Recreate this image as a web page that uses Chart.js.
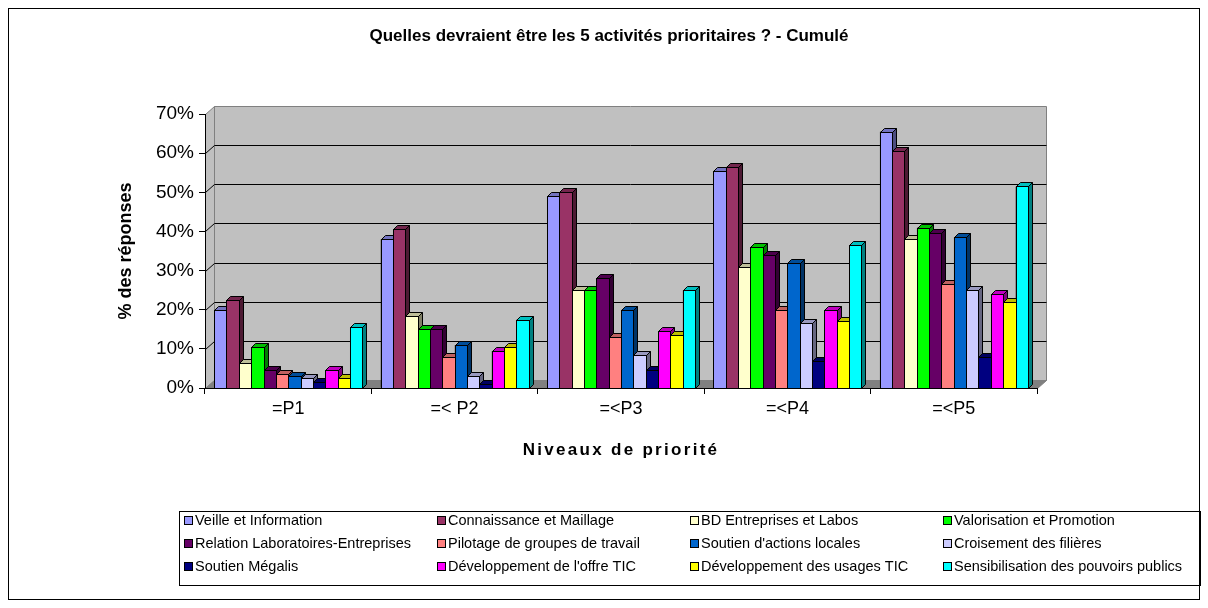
<!DOCTYPE html>
<html><head><meta charset="utf-8">
<script src="https://cdn.jsdelivr.net/npm/chart.js@4.4.1/dist/chart.umd.min.js"></script>
<style>html,body{margin:0;padding:0;background:#fff}#wrap{width:1208px;height:608px;position:relative}</style>
</head><body><div id="wrap"><canvas id="c" width="1208" height="608"></canvas></div>
<script>
const chartTitle = "Quelles devraient être les 5 activités prioritaires ? - Cumulé";
const xTitle = "Niveaux de priorité";
const yTitle = "% des réponses";
const categories = ["=P1", "=< P2", "=<P3", "=<P4", "=<P5"];
const yTickLabels = ["0%", "10%", "20%", "30%", "40%", "50%", "60%", "70%"];
const seriesNames = ["Veille et Information", "Connaissance et Maillage", "BD Entreprises et Labos", "Valorisation et Promotion",
  "Relation Laboratoires-Entreprises", "Pilotage de groupes de travail", "Soutien d'actions locales", "Croisement des filières",
  "Soutien Mégalis", "Développement de l'offre TIC", "Développement des usages TIC", "Sensibilisation des pouvoirs publics"];
const seriesColors = ["#9999FF", "#993366", "#FFFFCC", "#00FF00", "#660066", "#FF8080", "#0066CC", "#CCCCFF",
  "#000080", "#FF00FF", "#FFFF00", "#00FFFF"];
const veille = [20, 38, 49, 55.5, 65.5];
const connaissance = [22.5, 40.5, 50, 56.5, 60.5];
const bdEntreprises = [6.5, 18.5, 25, 31, 38];
const valorisation = [10.5, 15, 25, 36, 41];
const relation = [4.5, 15, 28, 34, 39.5];
const pilotage = [3.5, 8, 13, 20, 26.5];
const soutienActions = [3, 11, 20, 32, 38.5];
const croisement = [2.5, 3, 8.5, 16.5, 25];
const megalis = [1.5, 1, 4.5, 7, 8];
const offreTIC = [4.5, 9.5, 14.5, 20, 24];
const usagesTIC = [2.5, 10.5, 13.5, 17, 22];
const sensibilisation = [15.5, 17.5, 25, 36.5, 51.5];
const seriesValues = [veille, connaissance, bdEntreprises, valorisation, relation, pilotage, soutienActions,
  croisement, megalis, offreTIC, usagesTIC, sensibilisation];

const FONT = "'Liberation Sans', Arial, sans-serif";
const D = 4;          // bar depth
const WX = 9, WY = 8; // wall depth

function shade(hex, f) {
  const n = parseInt(hex.slice(1), 16);
  const r = Math.round(((n >> 16) & 255) * f), g = Math.round(((n >> 8) & 255) * f), b = Math.round((n & 255) * f);
  return `rgb(${r},${g},${b})`;
}
function poly(ctx, pts, fill, stroke) {
  ctx.beginPath();
  ctx.moveTo(pts[0], pts[1]);
  for (let i = 2; i < pts.length; i += 2) ctx.lineTo(pts[i], pts[i + 1]);
  ctx.closePath();
  if (fill) { ctx.fillStyle = fill; ctx.fill(); }
  if (stroke) { ctx.strokeStyle = stroke; ctx.stroke(); }
}

const wallPlugin = {
  id: 'wall',
  beforeDraw(chart) {
    const ctx = chart.ctx, a = chart.chartArea, ys = chart.scales.y;
    ctx.save();
    ctx.fillStyle = '#fff';
    ctx.fillRect(0, 0, chart.width, chart.height);
    ctx.lineWidth = 1;
    ctx.strokeStyle = '#000';
    ctx.strokeRect(8.5, 8.5, 1191, 591);
    const L = Math.round(a.left) + 0.5, R = Math.round(a.right) + 0.5, T = Math.round(a.top) + 0.5, B = Math.round(a.bottom) + 0.5;
    poly(ctx, [L + WX, T - WY, R + WX, T - WY, R + WX, B - WY, L + WX, B - WY], '#C0C0C0', '#808080');
    poly(ctx, [L, T, L + WX, T - WY, L + WX, B - WY, L, B], '#C0C0C0', '#808080');
    poly(ctx, [L, B, L + WX, B - WY, R + WX, B - WY, R, B], '#808080', '#808080');
    ctx.strokeStyle = '#000';
    ys.ticks.forEach(t => {
      if (t.value <= 0 || t.value >= 70) return;
      const py = Math.round(ys.getPixelForValue(t.value)) + 0.5;
      ctx.beginPath();
      ctx.moveTo(L, py);
      ctx.lineTo(L + WX, py - WY);
      ctx.lineTo(R + WX, py - WY);
      ctx.stroke();
    });
    ctx.restore();
  }
};

const bar3dPlugin = {
  id: 'bar3d',
  afterDatasetsDraw(chart) {
    const ctx = chart.ctx;
    ctx.save();
    ctx.lineWidth = 1;
    chart.data.datasets.forEach((ds, i) => {
      const meta = chart.getDatasetMeta(i);
      const col = ds.backgroundColor;
      meta.data.forEach(el => {
        const p = el.getProps(['x', 'y', 'base', 'width'], true);
        const l = Math.round(p.x - p.width / 2) + 0.5, r = Math.round(p.x + p.width / 2) + 0.5;
        const t = Math.round(p.y) + 0.5, b = Math.round(p.base) + 0.5;
        poly(ctx, [r, t, r + D, t - D, r + D, b - D, r, b], shade(col, 0.5), '#000');
        poly(ctx, [l, t, l + D, t - D, r + D, t - D, r, t], shade(col, 0.75), '#000');
        ctx.fillStyle = col;
        ctx.fillRect(l, t, r - l, b - t);
        ctx.strokeStyle = '#000';
        ctx.strokeRect(l, t, r - l, b - t);
      });
    });
    ctx.restore();
  }
};

const textPlugin = {
  id: 'texts',
  afterDraw(chart) {
    const ctx = chart.ctx, a = chart.chartArea;
    ctx.save();
    ctx.fillStyle = '#000';
    ctx.textBaseline = 'middle';
    ctx.textAlign = 'center';
    ctx.font = `bold 17px ${FONT}`;
    ctx.fillText(chartTitle, 609, 36);
    ctx.font = `bold 17px ${FONT}`;
    ctx.letterSpacing = '2.3px';
    ctx.fillText(xTitle, (a.left + a.right) / 2, 450);
    ctx.letterSpacing = '0px';
    ctx.lineWidth = 1;
    ctx.strokeStyle = '#000';
    ctx.strokeRect(179.5, 511.5, 1021, 74);
    ctx.textAlign = 'left';
    ctx.font = `14.5px ${FONT}`;
    seriesNames.forEach((name, i) => {
      const row = Math.floor(i / 4), colI = i % 4;
      const mx = 184 + colI * 253, my = 521 + row * 23;
      ctx.fillStyle = seriesColors[i];
      ctx.fillRect(mx + 0.5, my - 4.5, 8, 8);
      ctx.strokeRect(mx + 0.5, my - 4.5, 8, 8);
      ctx.fillStyle = '#000';
      ctx.fillText(name, mx + 11, my);
    });
    ctx.restore();
  }
};

new Chart(document.getElementById('c'), {
  type: 'bar',
  data: {
    labels: categories,
    datasets: seriesNames.map((n, i) => ({
      label: n,
      data: seriesValues[i],
      backgroundColor: seriesColors[i],
      borderColor: '#000',
      borderWidth: 1,
      borderSkipped: false,
      categoryPercentage: 0.89,
      barPercentage: 1.0
    }))
  },
  options: {
    responsive: false,
    animation: false,
    devicePixelRatio: 1,
    layout: { padding: { left: 115, right: 171, top: 114, bottom: 140 } },
    plugins: { legend: { display: false }, tooltip: { enabled: false }, title: { display: false } },
    scales: {
      x: {
        offset: true,
        grid: { offset: true, drawOnChartArea: false, color: '#000', tickLength: 6 },
        border: { color: '#000' },
        ticks: { font: { family: FONT, size: 18 }, color: '#000', padding: 4, maxRotation: 0 },
        afterFit(s) { s.height = 80; }
      },
      y: {
        min: 0, max: 70,
        grid: { drawOnChartArea: false, color: '#000', tickLength: 6 },
        border: { color: '#000' },
        ticks: { stepSize: 10, font: { family: FONT, size: 19 }, color: '#000', padding: 5,
          callback: (v, idx) => yTickLabels[idx] },
        title: { display: true, text: yTitle, font: { family: FONT, size: 18, weight: 'bold' }, color: '#000', padding: { top: 0, bottom: 0 } },
        afterFit(s) { s.width = 90; }
      }
    }
  },
  plugins: [wallPlugin, bar3dPlugin, textPlugin]
});
</script>
</body></html>
